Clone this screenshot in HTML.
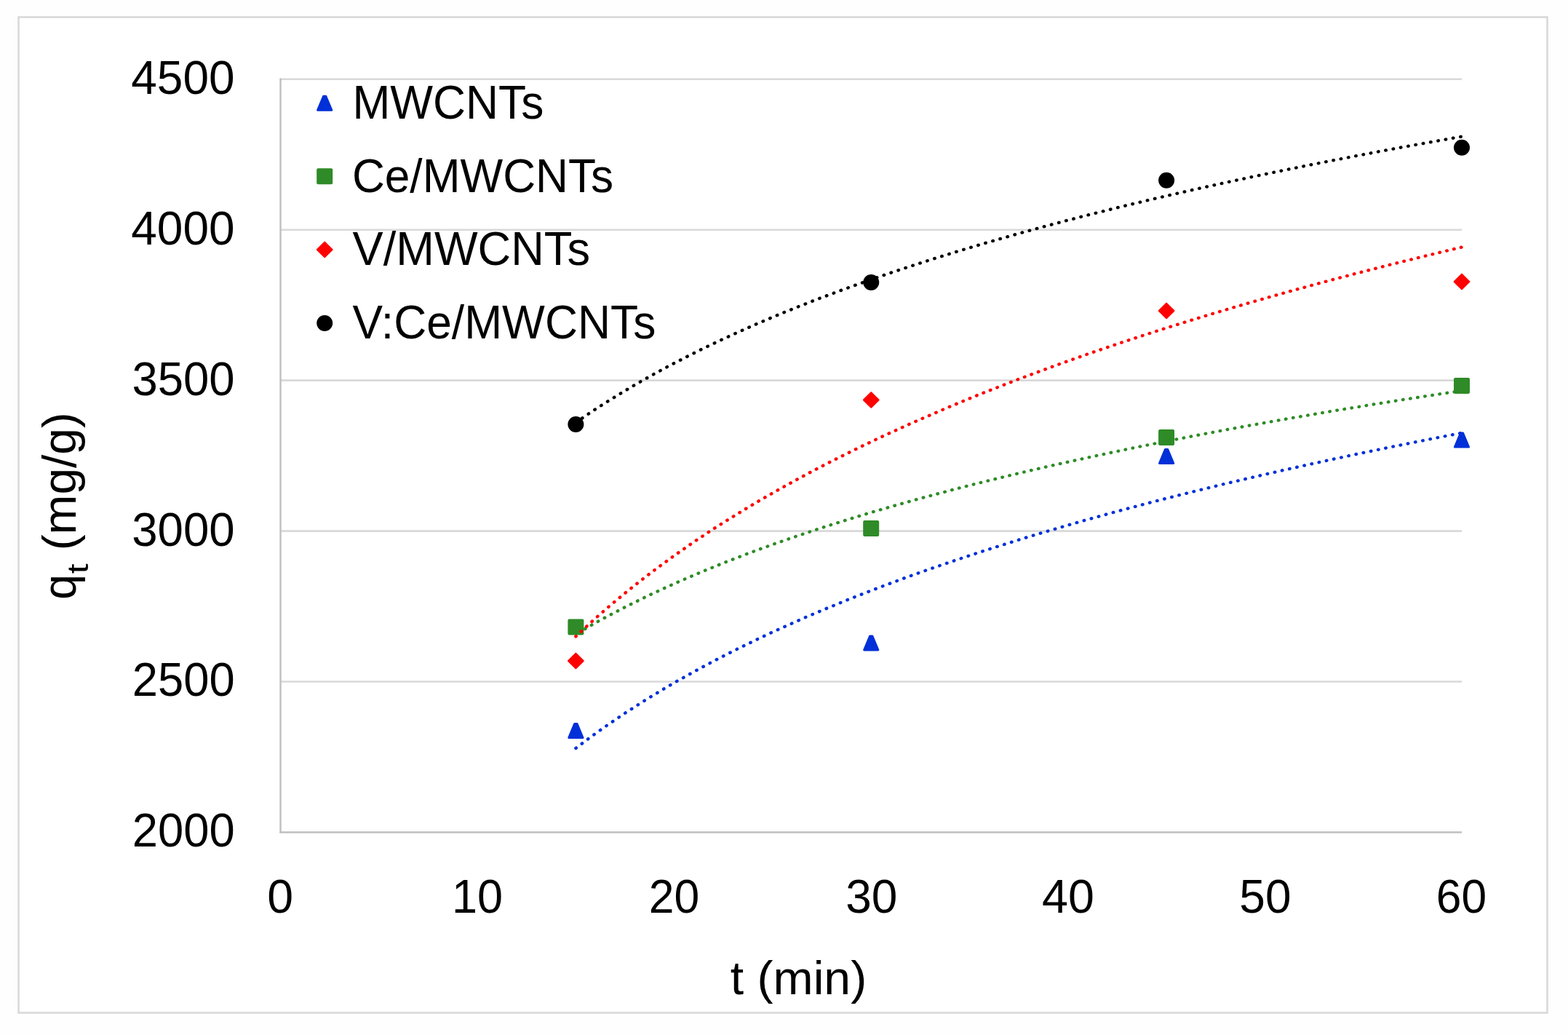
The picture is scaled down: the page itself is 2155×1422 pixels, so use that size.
<!DOCTYPE html>
<html><head><meta charset="utf-8"><title>q_t vs t</title><style>
html,body{margin:0;padding:0;background:#fff;overflow:hidden;}
svg{display:block;}
text{font-family:"Liberation Sans",Arial,sans-serif;font-size:64px;fill:#000;}
</style></head><body>
<svg width="2155" height="1422" viewBox="0 0 2155 1422">
<rect x="0" y="0" width="2155" height="1422" fill="#fefefe"/>
<rect x="25.5" y="23.5" width="2101" height="1368" fill="#fff" stroke="#d9d9d9" stroke-width="2.6"/>
<line x1="386" y1="108.75" x2="2009" y2="108.75" stroke="#d9d9d9" stroke-width="2.6"/>
<line x1="386" y1="315.70" x2="2009" y2="315.70" stroke="#d9d9d9" stroke-width="2.6"/>
<line x1="386" y1="522.65" x2="2009" y2="522.65" stroke="#d9d9d9" stroke-width="2.6"/>
<line x1="386" y1="729.60" x2="2009" y2="729.60" stroke="#d9d9d9" stroke-width="2.6"/>
<line x1="386" y1="936.55" x2="2009" y2="936.55" stroke="#d9d9d9" stroke-width="2.6"/>
<line x1="385.5" y1="107.5" x2="385.5" y2="1144.5" stroke="#bfbfbf" stroke-width="2.4"/>
<line x1="384.3" y1="1143.50" x2="2009" y2="1143.50" stroke="#bfbfbf" stroke-width="2.4"/>
<path d="M789.67 994.40 L793.08 994.40 L801.08 1013.60 L781.67 1013.60 Z" fill="#0030d8" stroke="#0030d8" stroke-width="2.8" stroke-linejoin="round"/>
<path d="M1195.55 873.80 L1198.95 873.80 L1206.95 893.00 L1187.55 893.00 Z" fill="#0030d8" stroke="#0030d8" stroke-width="2.8" stroke-linejoin="round"/>
<path d="M1601.42 617.40 L1604.83 617.40 L1612.83 636.60 L1593.42 636.60 Z" fill="#0030d8" stroke="#0030d8" stroke-width="2.8" stroke-linejoin="round"/>
<path d="M2007.30 595.00 L2010.70 595.00 L2018.70 614.20 L1999.30 614.20 Z" fill="#0030d8" stroke="#0030d8" stroke-width="2.8" stroke-linejoin="round"/>
<rect x="780.4" y="850.5" width="22" height="22" rx="2" fill="#2e8b27"/>
<rect x="1186.2" y="715.0" width="22" height="22" rx="2" fill="#2e8b27"/>
<rect x="1592.1" y="590.0" width="22" height="22" rx="2" fill="#2e8b27"/>
<rect x="1998.0" y="519.0" width="22" height="22" rx="2" fill="#2e8b27"/>
<path d="M791.38 897.60 L801.77 908.00 L791.38 918.40 L780.98 908.00 Z" fill="#ff0000" stroke="#ff0000" stroke-width="2" stroke-linejoin="round"/>
<path d="M1197.25 539.10 L1207.65 549.50 L1197.25 559.90 L1186.85 549.50 Z" fill="#ff0000" stroke="#ff0000" stroke-width="2" stroke-linejoin="round"/>
<path d="M1603.12 416.60 L1613.53 427.00 L1603.12 437.40 L1592.72 427.00 Z" fill="#ff0000" stroke="#ff0000" stroke-width="2" stroke-linejoin="round"/>
<path d="M2009.00 376.60 L2019.40 387.00 L2009.00 397.40 L1998.60 387.00 Z" fill="#ff0000" stroke="#ff0000" stroke-width="2" stroke-linejoin="round"/>
<circle cx="791.38" cy="583.00" r="11.00" fill="#000000"/>
<circle cx="1197.25" cy="388.00" r="11.00" fill="#000000"/>
<circle cx="1603.12" cy="247.70" r="11.00" fill="#000000"/>
<circle cx="2009.00" cy="202.70" r="11.00" fill="#000000"/>
<polyline points="791.4,1028.0 805.1,1017.6 818.7,1007.6 832.4,997.9 846.1,988.5 859.8,979.3 873.5,970.5 887.1,961.8 900.8,953.4 914.5,945.2 928.2,937.2 941.9,929.5 955.5,921.9 969.2,914.5 982.9,907.2 996.6,900.1 1010.3,893.2 1024.0,886.5 1037.6,879.8 1051.3,873.3 1065.0,867.0 1078.7,860.8 1092.4,854.7 1106.0,848.7 1119.7,842.8 1133.4,837.0 1147.1,831.4 1160.8,825.8 1174.4,820.3 1188.1,815.0 1201.8,809.7 1215.5,804.5 1229.2,799.4 1242.9,794.3 1256.5,789.4 1270.2,784.5 1283.9,779.7 1297.6,775.0 1311.3,770.4 1324.9,765.8 1338.6,761.3 1352.3,756.8 1366.0,752.4 1379.7,748.1 1393.3,743.8 1407.0,739.6 1420.7,735.4 1434.4,731.3 1448.1,727.3 1461.8,723.3 1475.4,719.3 1489.1,715.4 1502.8,711.6 1516.5,707.8 1530.2,704.0 1543.8,700.3 1557.5,696.7 1571.2,693.0 1584.9,689.4 1598.6,685.9 1612.2,682.4 1625.9,678.9 1639.6,675.5 1653.3,672.1 1667.0,668.8 1680.7,665.4 1694.3,662.2 1708.0,658.9 1721.7,655.7 1735.4,652.5 1749.1,649.4 1762.7,646.2 1776.4,643.2 1790.1,640.1 1803.8,637.1 1817.5,634.1 1831.1,631.1 1844.8,628.2 1858.5,625.2 1872.2,622.3 1885.9,619.5 1899.6,616.6 1913.2,613.8 1926.9,611.1 1940.6,608.3 1954.3,605.6 1968.0,602.8 1981.6,600.1 1995.3,597.5 2009.0,594.8" fill="none" stroke="#0030d8" stroke-width="4.4" stroke-dasharray="0.6 9.80" stroke-linecap="round" stroke-dashoffset="0.05"/>
<polyline points="791.4,871.4 805.1,863.4 818.7,855.6 832.4,848.1 846.1,840.8 859.8,833.8 873.5,826.9 887.1,820.2 900.8,813.8 914.5,807.4 928.2,801.3 941.9,795.3 955.5,789.4 969.2,783.7 982.9,778.1 996.6,772.6 1010.3,767.3 1024.0,762.0 1037.6,756.9 1051.3,751.9 1065.0,747.0 1078.7,742.2 1092.4,737.5 1106.0,732.9 1119.7,728.3 1133.4,723.9 1147.1,719.5 1160.8,715.2 1174.4,711.0 1188.1,706.8 1201.8,702.7 1215.5,698.7 1229.2,694.8 1242.9,690.9 1256.5,687.1 1270.2,683.3 1283.9,679.6 1297.6,676.0 1311.3,672.4 1324.9,668.8 1338.6,665.3 1352.3,661.9 1366.0,658.5 1379.7,655.2 1393.3,651.9 1407.0,648.6 1420.7,645.4 1434.4,642.2 1448.1,639.1 1461.8,636.0 1475.4,633.0 1489.1,630.0 1502.8,627.0 1516.5,624.1 1530.2,621.1 1543.8,618.3 1557.5,615.4 1571.2,612.6 1584.9,609.9 1598.6,607.1 1612.2,604.4 1625.9,601.8 1639.6,599.1 1653.3,596.5 1667.0,593.9 1680.7,591.3 1694.3,588.8 1708.0,586.3 1721.7,583.8 1735.4,581.4 1749.1,578.9 1762.7,576.5 1776.4,574.1 1790.1,571.8 1803.8,569.4 1817.5,567.1 1831.1,564.8 1844.8,562.5 1858.5,560.3 1872.2,558.1 1885.9,555.8 1899.6,553.7 1913.2,551.5 1926.9,549.3 1940.6,547.2 1954.3,545.1 1968.0,543.0 1981.6,540.9 1995.3,538.8 2009.0,536.8" fill="none" stroke="#2e8b27" stroke-width="4.4" stroke-dasharray="0.6 9.60" stroke-linecap="round" stroke-dashoffset="5.80"/>
<polyline points="791.4,874.4 805.1,861.6 818.7,849.2 832.4,837.2 846.1,825.6 859.8,814.3 873.5,803.3 887.1,792.6 900.8,782.3 914.5,772.2 928.2,762.3 941.9,752.7 955.5,743.3 969.2,734.2 982.9,725.2 996.6,716.5 1010.3,708.0 1024.0,699.6 1037.6,691.4 1051.3,683.4 1065.0,675.6 1078.7,667.9 1092.4,660.4 1106.0,653.0 1119.7,645.7 1133.4,638.6 1147.1,631.6 1160.8,624.7 1174.4,618.0 1188.1,611.3 1201.8,604.8 1215.5,598.4 1229.2,592.1 1242.9,585.9 1256.5,579.8 1270.2,573.8 1283.9,567.9 1297.6,562.0 1311.3,556.3 1324.9,550.6 1338.6,545.0 1352.3,539.5 1366.0,534.1 1379.7,528.8 1393.3,523.5 1407.0,518.3 1420.7,513.2 1434.4,508.1 1448.1,503.1 1461.8,498.2 1475.4,493.3 1489.1,488.5 1502.8,483.7 1516.5,479.0 1530.2,474.4 1543.8,469.8 1557.5,465.3 1571.2,460.8 1584.9,456.4 1598.6,452.0 1612.2,447.7 1625.9,443.4 1639.6,439.2 1653.3,435.0 1667.0,430.8 1680.7,426.8 1694.3,422.7 1708.0,418.7 1721.7,414.7 1735.4,410.8 1749.1,406.9 1762.7,403.0 1776.4,399.2 1790.1,395.5 1803.8,391.7 1817.5,388.0 1831.1,384.3 1844.8,380.7 1858.5,377.1 1872.2,373.5 1885.9,370.0 1899.6,366.5 1913.2,363.0 1926.9,359.6 1940.6,356.2 1954.3,352.8 1968.0,349.5 1981.6,346.1 1995.3,342.9 2009.0,339.6" fill="none" stroke="#ff0000" stroke-width="4.4" stroke-dasharray="0.6 9.50" stroke-linecap="round" stroke-dashoffset="0.20"/>
<polyline points="791.4,580.5 805.1,571.1 818.7,562.0 832.4,553.2 846.1,544.7 859.8,536.4 873.5,528.3 887.1,520.5 900.8,512.8 914.5,505.4 928.2,498.2 941.9,491.1 955.5,484.2 969.2,477.5 982.9,471.0 996.6,464.5 1010.3,458.3 1024.0,452.1 1037.6,446.1 1051.3,440.2 1065.0,434.5 1078.7,428.8 1092.4,423.3 1106.0,417.9 1119.7,412.5 1133.4,407.3 1147.1,402.2 1160.8,397.1 1174.4,392.2 1188.1,387.3 1201.8,382.5 1215.5,377.8 1229.2,373.1 1242.9,368.6 1256.5,364.1 1270.2,359.7 1283.9,355.3 1297.6,351.1 1311.3,346.8 1324.9,342.7 1338.6,338.6 1352.3,334.5 1366.0,330.6 1379.7,326.6 1393.3,322.8 1407.0,318.9 1420.7,315.2 1434.4,311.4 1448.1,307.8 1461.8,304.1 1475.4,300.6 1489.1,297.0 1502.8,293.5 1516.5,290.1 1530.2,286.7 1543.8,283.3 1557.5,280.0 1571.2,276.7 1584.9,273.4 1598.6,270.2 1612.2,267.1 1625.9,263.9 1639.6,260.8 1653.3,257.7 1667.0,254.7 1680.7,251.7 1694.3,248.7 1708.0,245.8 1721.7,242.8 1735.4,240.0 1749.1,237.1 1762.7,234.3 1776.4,231.5 1790.1,228.7 1803.8,225.9 1817.5,223.2 1831.1,220.5 1844.8,217.9 1858.5,215.2 1872.2,212.6 1885.9,210.0 1899.6,207.4 1913.2,204.9 1926.9,202.3 1940.6,199.8 1954.3,197.4 1968.0,194.9 1981.6,192.5 1995.3,190.0 2009.0,187.6" fill="none" stroke="#000000" stroke-width="4.4" stroke-dasharray="0.6 9.86" stroke-linecap="round" stroke-dashoffset="0.05"/>
<path d="M444.50 132.20 L447.90 132.20 L455.90 151.40 L436.50 151.40 Z" fill="#0030d8" stroke="#0030d8" stroke-width="2.8" stroke-linejoin="round"/>
<rect x="435.2" y="231.3" width="22" height="22" rx="2" fill="#2e8b27"/>
<path d="M446.20 332.60 L456.60 343.00 L446.20 353.40 L435.80 343.00 Z" fill="#ff0000" stroke="#ff0000" stroke-width="2" stroke-linejoin="round"/>
<circle cx="446.20" cy="444.00" r="11.00" fill="#000000"/>
<text x="180.30" y="128.65" textLength="142.25" lengthAdjust="spacingAndGlyphs">4500</text>
<text x="180.30" y="335.60" textLength="142.25" lengthAdjust="spacingAndGlyphs">4000</text>
<text x="181.50" y="542.55" textLength="141.11" lengthAdjust="spacingAndGlyphs">3500</text>
<text x="181.20" y="749.50" textLength="141.40" lengthAdjust="spacingAndGlyphs">3000</text>
<text x="181.80" y="956.45" textLength="140.80" lengthAdjust="spacingAndGlyphs">2500</text>
<text x="181.80" y="1163.40" textLength="140.80" lengthAdjust="spacingAndGlyphs">2000</text>
<text x="367.20" y="1253.50" textLength="35.84" lengthAdjust="spacingAndGlyphs">0</text>
<text x="621.00" y="1253.50" textLength="70.11" lengthAdjust="spacingAndGlyphs">10</text>
<text x="891.80" y="1253.50" textLength="69.54" lengthAdjust="spacingAndGlyphs">20</text>
<text x="1162.20" y="1253.50" textLength="71.19" lengthAdjust="spacingAndGlyphs">30</text>
<text x="1432.00" y="1253.50" textLength="71.89" lengthAdjust="spacingAndGlyphs">40</text>
<text x="1703.30" y="1253.50" textLength="71.19" lengthAdjust="spacingAndGlyphs">50</text>
<text x="1973.80" y="1253.50" textLength="69.40" lengthAdjust="spacingAndGlyphs">60</text>
<text x="484.50" y="163.00" textLength="262.80" lengthAdjust="spacingAndGlyphs">MWCNTs</text>
<text x="483.90" y="263.60" textLength="359.22" lengthAdjust="spacingAndGlyphs">Ce/MWCNTs</text>
<text x="484.60" y="364.20" textLength="326.40" lengthAdjust="spacingAndGlyphs">V/MWCNTs</text>
<text x="484.60" y="464.80" textLength="416.70" lengthAdjust="spacingAndGlyphs">V:Ce/MWCNTs</text>
<text x="1003.70" y="1366.30" textLength="187.54" lengthAdjust="spacingAndGlyphs">t (min)</text>
<text transform="translate(104.30,823.70) rotate(-90)" style="font-size:64px" textLength="34.60" lengthAdjust="spacingAndGlyphs">q</text>
<text transform="translate(121.20,788.20) rotate(-90)" style="font-size:40px" textLength="13.94" lengthAdjust="spacingAndGlyphs">t</text>
<text transform="translate(104.30,756.30) rotate(-90)" style="font-size:64px" textLength="190.01" lengthAdjust="spacingAndGlyphs">(mg/g)</text>
</svg>
</body></html>
